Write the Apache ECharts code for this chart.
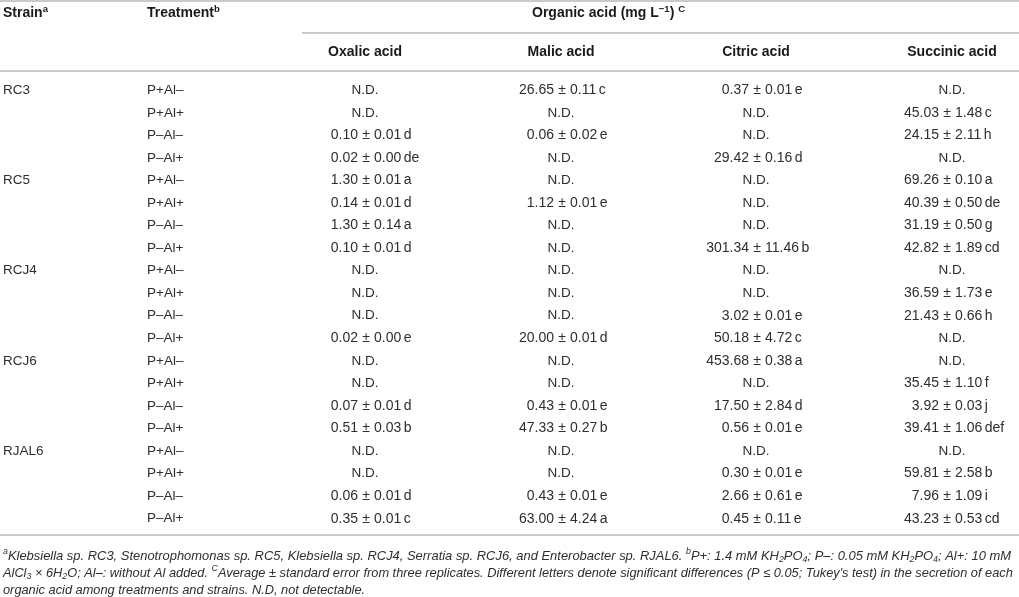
<!DOCTYPE html>
<html>
<head>
    <meta charset="UTF-8">
    <title>Organic acid secretion</title>
    <style type="text/css">
        *{margin: 0;padding: 0;}
        body{background: #fff;}
        #main{width: 1019px;height: 597px;}
    </style>
    <script src="https://cdn.jsdelivr.net/npm/echarts@6/dist/echarts.min.js"></script>
</head>
<body>
<div id="main"></div>
<script type="text/javascript">
    // table data
    var strains = ['RC3', 'RC5', 'RCJ4', 'RCJ6', 'RJAL6'];
    var treatments = ['P+Al–', 'P+Al+', 'P–Al–', 'P–Al+'];
    var acids = ['Oxalic acid', 'Malic acid', 'Citric acid', 'Succinic acid'];

    var oxalic = ['N.D.', 'N.D.', '0.10 ± 0.01 d', '0.02 ± 0.00 de',
        '1.30 ± 0.01 a', '0.14 ± 0.01 d', '1.30 ± 0.14 a', '0.10 ± 0.01 d',
        'N.D.', 'N.D.', 'N.D.', '0.02 ± 0.00 e',
        'N.D.', 'N.D.', '0.07 ± 0.01 d', '0.51 ± 0.03 b',
        'N.D.', 'N.D.', '0.06 ± 0.01 d', '0.35 ± 0.01 c'];
    var malic = ['26.65 ± 0.11 c', 'N.D.', '0.06 ± 0.02 e', 'N.D.',
        'N.D.', '1.12 ± 0.01 e', 'N.D.', 'N.D.',
        'N.D.', 'N.D.', 'N.D.', '20.00 ± 0.01 d',
        'N.D.', 'N.D.', '0.43 ± 0.01 e', '47.33 ± 0.27 b',
        'N.D.', 'N.D.', '0.43 ± 0.01 e', '63.00 ± 4.24 a'];
    var citric = ['0.37 ± 0.01 e', 'N.D.', 'N.D.', '29.42 ± 0.16 d',
        'N.D.', 'N.D.', 'N.D.', '301.34 ± 11.46 b',
        'N.D.', 'N.D.', '3.02 ± 0.01 e', '50.18 ± 4.72 c',
        '453.68 ± 0.38 a', 'N.D.', '17.50 ± 2.84 d', '0.56 ± 0.01 e',
        'N.D.', '0.30 ± 0.01 e', '2.66 ± 0.61 e', '0.45 ± 0.11 e'];
    var succinic = ['N.D.', '45.03 ± 1.48 c', '24.15 ± 2.11 h', 'N.D.',
        '69.26 ± 0.10 a', '40.39 ± 0.50 de', '31.19 ± 0.50 g', '42.82 ± 1.89 cd',
        'N.D.', '36.59 ± 1.73 e', '21.43 ± 0.66 h', 'N.D.',
        'N.D.', '35.45 ± 1.10 f', '3.92 ± 0.03 j', '39.41 ± 1.06 def',
        'N.D.', '59.81 ± 2.58 b', '7.96 ± 1.09 i', '43.23 ± 0.53 cd'];

    var columns = [oxalic, malic, citric, succinic];

    // layout (pixels)
    var FONT = '"Liberation Sans", Arial, Helvetica, sans-serif';
    var TXT = '#2e2e2e', HEAD = '#1a1a1a', RULE = '#b8b8b8';
    var strainX = 3, treatX = 147;
    var pmX = [366, 562, 757, 947];   // position of the ± sign per column
    var ndX = [365, 561, 756, 952];   // centre of N.D. per column

    var rowNames = [];
    strains.forEach(function (s) {
        treatments.forEach(function (t) { rowNames.push(s + ' ' + t); });
    });

    var myChart = echarts.init(document.getElementById('main'));

    function txt(x, y, text, align, extra) {
        var st = {
            text: text, align: align, verticalAlign: 'middle',
            fontFamily: FONT, fontSize: 13.5, fill: TXT
        };
        for (var k in extra) st[k] = extra[k];
        return {type: 'text', x: x, y: y, style: st};
    }

    function labelSeries(getText, x) {
        return {
            type: 'custom',
            silent: true,
            data: rowNames.map(function (n, i) { return [0, i]; }),
            renderItem: function (params, api) {
                var y = api.coord([0, api.value(1)])[1];
                var t = getText(params.dataIndex);
                if (!t) return;
                return txt(x, y, t, 'left');
            }
        };
    }

    function valueSeries(c) {
        return {
            type: 'custom',
            silent: true,
            data: columns[c].map(function (v, i) { return [0, i]; }),
            renderItem: function (params, api) {
                var y = api.coord([0, api.value(1)])[1];
                var s = columns[c][params.dataIndex];
                if (s === 'N.D.') return txt(ndX[c], y, s, 'center');
                var parts = s.split(' ± ');
                var right = parts[1].split(' ');
                return {
                    type: 'group',
                    children: [
                        txt(pmX[c] - 8, y, parts[0], 'right', {fontSize: 14}),
                        txt(pmX[c], y, '±', 'center', {fontSize: 14}),
                        txt(pmX[c] + 8, y, '{n|' + right[0] + '}{l|' + right[1] + '}', 'left', {
                            fontSize: 14,
                            rich: {n: {}, l: {padding: [0, 0, 0, 2.5]}}
                        })
                    ]
                };
            }
        };
    }

    var headRich = {
        b: {fontFamily: FONT, fontSize: 14, fontWeight: 'bold', fill: HEAD, lineHeight: 18},
        sup: {fontFamily: FONT, fontSize: 9.5, fontWeight: 'bold', fill: HEAD, lineHeight: 10, verticalAlign: 'top'}
    };
    function headText(x, y, text, align) {
        return {
            type: 'text', x: x, y: y, silent: true,
            style: {text: text, align: align, verticalAlign: 'middle', rich: headRich,
                fontFamily: FONT, fontSize: 14, fontWeight: 'bold', fill: HEAD}
        };
    }

    function noteRich(size) {
        return {
            i: {fontFamily: FONT, fontSize: size, fontStyle: 'italic', fill: TXT, lineHeight: 17},
            sup: {fontFamily: FONT, fontSize: 8.8, fontStyle: 'italic', fill: TXT, lineHeight: 9, verticalAlign: 'top'},
            sub: {fontFamily: FONT, fontSize: 8.8, fontStyle: 'italic', fill: TXT, lineHeight: 9, verticalAlign: 'bottom'}
        };
    }
    var notes = [
        '{sup|a}{i|Klebsiella sp. RC3, Stenotrophomonas sp. RC5, Klebsiella sp. RCJ4, Serratia sp. RCJ6, and Enterobacter sp. RJAL6. }{sup|b}{i|P+: 1.4 mM KH}{sub|2}{i|PO}{sub|4}{i|; P–: 0.05 mM KH}{sub|2}{i|PO}{sub|4}{i|; Al+: 10 mM}',
        '{i|AlCl}{sub|3}{i| × 6H}{sub|2}{i|O; Al–: without Al added. }{sup|C}{i|Average ± standard error from three replicates. Different letters denote significant differences (P ≤ 0.05; Tukey\'s test) in the secretion of each}',
        '{i|organic acid among treatments and strains. N.D, not detectable.}'
    ];
    var noteSizes = [12.95, 12.8, 12.8];

    function rule(x1, y, x2) {
        return {type: 'line', silent: true, shape: {x1: x1, y1: y, x2: x2, y2: y},
            style: {stroke: RULE, lineWidth: 1.6}};
    }

    var graphics = [
        rule(0, 1, 1019), rule(302, 33, 1019), rule(0, 71, 1019), rule(0, 535, 1019),
        headText(strainX, 13, '{b|Strain}{sup|a}', 'left'),
        headText(treatX, 13, '{b|Treatment}{sup|b}', 'left'),
        headText(532, 13, '{b|Organic acid (mg L}{sup|−1}{b|) }{sup|C}', 'left')
    ];
    acids.forEach(function (a, i) {
        graphics.push(headText(ndX[i], 52, '{b|' + a + '}', 'center'));
    });
    notes.forEach(function (n, i) {
        graphics.push({type: 'text', x: 3, y: 556 + i * 17, silent: true,
            style: {text: n, rich: noteRich(noteSizes[i]), align: 'left', verticalAlign: 'middle',
                fontFamily: FONT, fontSize: noteSizes[i], fontStyle: 'italic', fill: TXT}});
    });

    var option = {
        animation: false,
        grid: {left: 0, right: 0, top: 79, height: 451},
        xAxis: {type: 'value', min: 0, max: 1019, show: false},
        yAxis: {type: 'category', data: rowNames, inverse: true, show: false},
        graphic: graphics,
        series: [
            labelSeries(function (i) { return i % 4 === 0 ? strains[i / 4] : ''; }, strainX),
            labelSeries(function (i) { return treatments[i % 4]; }, treatX),
            valueSeries(0), valueSeries(1), valueSeries(2), valueSeries(3)
        ]
    };
    myChart.setOption(option);
</script>
</body>
</html>
